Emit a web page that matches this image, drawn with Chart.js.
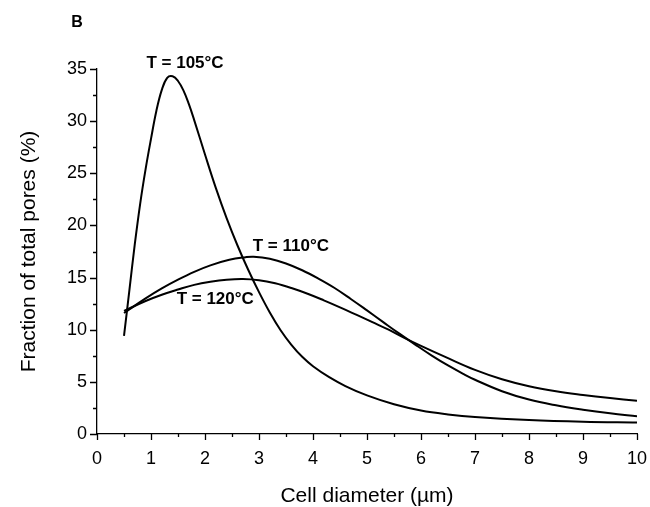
<!DOCTYPE html>
<html>
<head>
<meta charset="utf-8">
<script src="https://cdn.jsdelivr.net/npm/chart.js@4/dist/chart.umd.min.js"></script>
<style>
  html, body { margin: 0; padding: 0; background: #fff; }
  #wrap { width: 650px; height: 507px; }
</style>
</head>
<body>
<div id="wrap"><canvas id="poreChart"></canvas></div>
<script>
// cell diameter (um) and fraction of total pores (%)
const x105 = [0.5, 0.6, 0.7, 0.8, 0.9, 1.0, 1.1, 1.2, 1.3, 1.4, 1.5, 1.6, 1.7, 1.8, 2.0, 2.2, 2.4, 2.6, 2.8, 3.0, 3.2, 3.4, 3.6, 3.8, 4.0, 4.3, 4.6, 5.0, 5.5, 6.0, 6.5, 7.0, 8.0, 9.0, 10.0];
const y105 = [9.4, 13.8, 18.2, 22.1, 25.4, 28.3, 31.0, 33.0, 34.15, 34.3, 33.85, 32.95, 31.65, 30.1, 26.8, 23.6, 20.7, 18.1, 15.75, 13.6, 11.65, 9.95, 8.55, 7.4, 6.5, 5.45, 4.6, 3.7, 2.85, 2.25, 1.88, 1.63, 1.34, 1.18, 1.11];

const x110 = [0.5, 0.9, 1.2, 1.5, 1.8, 2.1, 2.45, 2.75, 2.9, 3.2, 3.5, 3.8, 4.1, 4.4, 4.7, 5.0, 5.3, 5.6, 5.9, 6.2, 6.5, 6.8, 7.0, 7.5, 8.0, 8.5, 9.0, 9.5, 10.0];
const y110 = [11.6, 13.0, 13.96, 14.8, 15.55, 16.17, 16.7, 16.95, 17.0, 16.8, 16.35, 15.7, 14.9, 14.0, 12.95, 11.85, 10.73, 9.62, 8.55, 7.52, 6.57, 5.72, 5.2, 4.1, 3.3, 2.75, 2.33, 1.98, 1.69];

const x120 = [0.5, 0.9, 1.2, 1.5, 1.8, 2.1, 2.4, 2.7, 3.0, 3.3, 3.6, 3.9, 4.2, 4.5, 4.8, 5.1, 5.4, 5.7, 6.0, 6.5, 7.0, 7.5, 8.0, 8.5, 9.0, 9.5, 10.0];
const y120 = [11.8, 12.75, 13.35, 13.85, 14.3, 14.6, 14.8, 14.87, 14.75, 14.45, 14.0, 13.45, 12.82, 12.15, 11.45, 10.73, 10.0, 9.2, 8.45, 7.27, 6.15, 5.25, 4.58, 4.1, 3.75, 3.45, 3.19];

const curveLabels = ['T = 105°C', 'T = 110°C', 'T = 120°C'];
const labelAt = [[1.63, 35.5], [3.59, 18.0], [2.19, 12.93]];

const xTicks = [0, 1, 2, 3, 4, 5, 6, 7, 8, 9, 10];
const yTicks = [0, 5, 10, 15, 20, 25, 30, 35];

function toPoints(xs, ys) {
    return xs.map(function (x, i) { return { x: x, y: ys[i] }; });
}

function curve(xs, ys) {
    return {
        data: toPoints(xs, ys),
        borderColor: '#000',
        borderWidth: 2,
        pointRadius: 0,
        fill: false,
        tension: 0.4
    };
}

// minor/major outward tick marks + text labels
const decorations = {
    id: 'decorations',
    afterDraw: function (chart) {
        const ctx = chart.ctx;
        const xs = chart.scales.x;
        const ys = chart.scales.y;
        const area = chart.chartArea;
        ctx.save();
        ctx.strokeStyle = '#000';
        ctx.lineWidth = 1.3;
        ctx.beginPath();
        for (let v = 0; v <= 10.001; v += 0.5) {
            const px = Math.round(xs.getPixelForValue(v)) + 0.5;
            const len = Math.abs(v - Math.round(v)) < 0.01 ? 6 : 3;
            ctx.moveTo(px, area.bottom);
            ctx.lineTo(px, area.bottom + len);
        }
        for (let v = 0; v <= 35.001; v += 2.5) {
            const py = Math.round(ys.getPixelForValue(v)) + 0.5;
            const len = Math.abs(v / 5 - Math.round(v / 5)) < 0.01 ? 7 : 4;
            ctx.moveTo(area.left, py);
            ctx.lineTo(area.left - len, py);
        }
        ctx.stroke();

        ctx.fillStyle = '#000';
        ctx.textAlign = 'center';
        ctx.textBaseline = 'middle';
        ctx.font = 'bold 17px "Liberation Sans", Arial, sans-serif';
        curveLabels.forEach(function (txt, i) {
            ctx.fillText(txt, xs.getPixelForValue(labelAt[i][0]), ys.getPixelForValue(labelAt[i][1]));
        });
        ctx.font = 'bold 16px "Liberation Sans", Arial, sans-serif';
        ctx.fillText('B', 77, 23);
        ctx.restore();
    }
};

new Chart(document.getElementById('poreChart').getContext('2d'), {
    type: 'line',
    data: {
        datasets: [curve(x105, y105), curve(x110, y110), curve(x120, y120)]
    },
    options: {
        responsive: true,
        maintainAspectRatio: false,
        animation: false,
        events: [],
        layout: { padding: { left: 17, top: 69, right: 13, bottom: 0 } },
        plugins: {
            legend: { display: false },
            tooltip: { enabled: false }
        },
        scales: {
            x: {
                type: 'linear',
                min: 0,
                max: 10,
                afterFit: function (s) {
                    s.height = 73;
                    s.paddingLeft = 0;
                    s.paddingRight = 0;
                },
                afterBuildTicks: function (s) { s.ticks = xTicks.map(function (v) { return { value: v }; }); },
                grid: { display: false, drawTicks: false },
                border: { display: true, color: '#000', width: 1.3 },
                ticks: {
                    color: '#000',
                    padding: 14,
                    maxRotation: 0,
                    font: { family: '"Liberation Sans", Arial, sans-serif', size: 18 }
                },
                title: {
                    display: true,
                    text: 'Cell diameter (\u00b5m)',
                    color: '#000',
                    padding: { top: 0, bottom: 0 },
                    font: { family: '"Liberation Sans", Arial, sans-serif', size: 21, lineHeight: 1 }
                }
            },
            y: {
                type: 'linear',
                min: 0,
                max: 35,
                afterFit: function (s) { s.width = 80; },
                afterBuildTicks: function (s) { s.ticks = yTicks.map(function (v) { return { value: v }; }); },
                grid: { display: false, drawTicks: false },
                border: { display: true, color: '#000', width: 1.3 },
                ticks: {
                    color: '#000',
                    padding: 10,
                    font: { family: '"Liberation Sans", Arial, sans-serif', size: 18 }
                },
                title: {
                    display: true,
                    text: 'Fraction of total pores (%)',
                    color: '#000',
                    padding: { top: 0, bottom: 0 },
                    font: { family: '"Liberation Sans", Arial, sans-serif', size: 21 }
                }
            }
        }
    },
    plugins: [decorations]
});
</script>
</body>
</html>
